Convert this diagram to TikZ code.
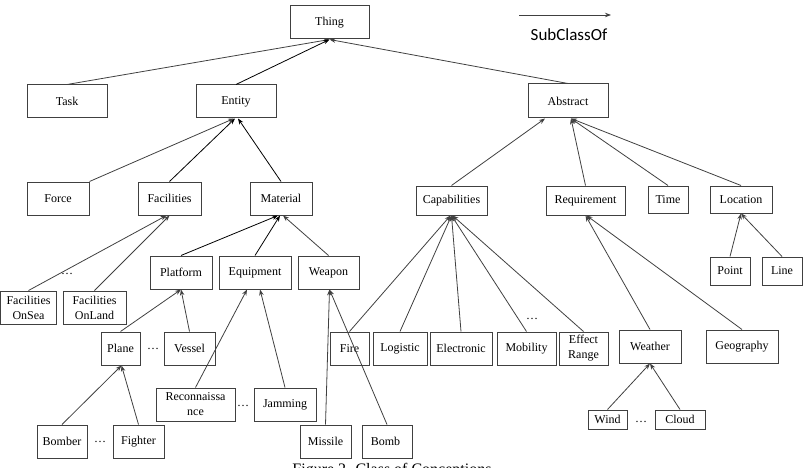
\documentclass[tikz,border=0pt]{standalone}
\usepackage{fontspec}
\setmainfont{Liberation Serif}
\newfontfamily\legendfont{Carlito}
\usetikzlibrary{arrows.meta}
\definecolor{edgegray}{HTML}{404040}

\begin{document}
\begin{tikzpicture}[x=1pt, y=-1pt, font=\fontsize{12}{15}\selectfont,
    cls/.style={draw=edgegray, line width=1pt, inner sep=1pt, align=center},
    sub/.style={draw=edgegray, line width=0.8pt, -{Stealth[length=6pt,width=4.5pt]}},
    subk/.style={sub, draw=black},
    gap/.style={inner sep=0pt}]
\useasboundingbox (0,0) rectangle (806,468);
% class boxes
\foreach \n/\x/\y/\w/\h/\t in {%
    thing/329.5/22.5/79/33/Thing,
    task/67/101.5/80/33/Task,
    entity/236/101.5/80/33/Entity,
    abstract/568/101/80/34/Abstract,
    force/58/198.5/62/33/Force,
    facilities/169.5/198.5/63/33/Facilities,
    material/281/198.5/62/33/Material,
    capabilities/451.5/200.5/71/29/Capabilities,
    requirement/585.5/200.5/79/29/Requirement,
    time/668/199.5/40/27/Time,
    location/741/199.5/62/27/Location,
    platform/181/272.5/62/33/Platform,
    equipment/255/272.5/72/33/Equipment,
    weapon/328.5/272.5/61/33/Weapon,
    point/730/271/40/28/Point,
    lineloc/782/271/40/28/Line,
    plane/120.5/348.5/39/33/Plane,
    vessel/189.5/348.5/51/33/Vessel,
    fire/349.5/348.5/39/33/Fire,
    logistic/400/348.5/54/33/Logistic,
    electronic/461/348.5/62/33/Electronic,
    mobility/526.5/348.5/59/33/Mobility,
    weather/650/346.5/62/33/Weather,
    geography/742/346.5/72/33/Geography,
    jamming/285/404.5/62/33/Jamming,
    wind/607.5/419.5/39/19/Wind,
    cloud/680/419.5/50/19/Cloud,
    bomber/62/441.5/50/33/Bomber,
    fighter/138.5/441.5/51/33/Fighter,
    missile/325.5/441.5/51/33/Missile,
    bomb/387/441.5/50/33/Bomb
} {
    \node[cls, minimum width=\w pt, minimum height=\h pt] (\n) at (\x,\y) {\t};
}
\node[cls, minimum width=56pt, minimum height=33pt] (onsea) at (28.5,307.5) {Facilities\\OnSea};
\node[cls, minimum width=63pt, minimum height=33pt] (onland) at (94.5,307.5) {Facilities\\OnLand};
\node[cls, minimum width=49pt, minimum height=33pt] (effect) at (583.5,348.5) {Effect\\Range};
\node[cls, minimum width=79pt, minimum height=33pt] (recon) at (195.5,404.5) {Reconnaissa\\nce};
% omitted siblings
\foreach \n/\x/\y in {dfac/67/274, dplane/153/349, drecon/243/406, dbomber/100/442, dcap/532/319, dwind/641/422} {
    \node[gap] (\n) at (\x,\y) {\ldots};
}
% subclass links
\foreach \a/\b/\dx in {task/thing/0, abstract/thing/0, onsea/facilities/-3, onland/facilities/0,
    weapon/material/2, plane/platform/0, vessel/platform/0, recon/equipment/-8, jamming/equipment/5,
    bomber/plane/1, fighter/plane/1, missile/weapon/1, bomb/weapon/1,
    fire/capabilities/-1, logistic/capabilities/0, electronic/capabilities/0, mobility/capabilities/0,
    effect/capabilities/1, capabilities/abstract/-23, requirement/abstract/3, time/abstract/3,
    location/abstract/3, weather/requirement/0, geography/requirement/1, point/location/0,
    lineloc/location/0, wind/weather/0, cloud/weather/0} {
    \draw[sub] (\a.north) -- ([xshift=\dx pt]\b.south);
}
\foreach \a/\b/\dx in {entity/thing/0, facilities/entity/-1, material/entity/2,
    platform/material/-3, equipment/material/-1} {
    \draw[subk] (\a.north) -- ([xshift=\dx pt]\b.south);
}
\draw[sub] (force.north east) -- ([xshift=-2pt]entity.south);
% legend
\coordinate (lgtail) at (519,15);
\coordinate (lghead) at (611,15);
\draw[sub] (lgtail) -- (lghead);
\node[font=\legendfont\fontsize{17}{20}\selectfont] (lglabel) at (569,35) {SubClassOf};
\node[font=\fontsize{16}{19}\selectfont, anchor=north, inner sep=0pt] (caption) at (392,463) {Figure 2. Class of Conceptions};
\end{tikzpicture}
\end{document}
